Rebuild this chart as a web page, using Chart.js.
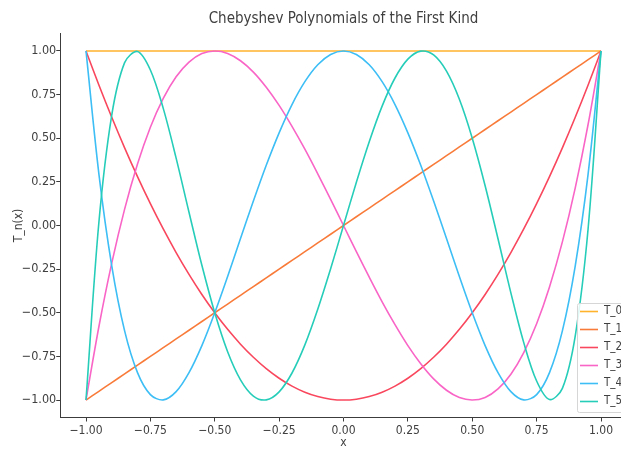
<!DOCTYPE html>
<html>
<head>
<meta charset="utf-8">
<script src="https://cdn.jsdelivr.net/npm/chart.js@4.4.1/dist/chart.umd.min.js"></script>
<style>
  html, body { margin: 0; padding: 0; background: #fff; overflow: hidden; width: 621px; height: 450px; }
  #wrap { position: absolute; left: 0; top: 0; width: 640px; height: 450px; }
</style>
</head>
<body>
<div id="wrap"><canvas id="c" width="640" height="450"></canvas></div>
<script>
// ---- data ----
const titleText = 'Chebyshev Polynomials of the First Kind';
const seriesNames = ['T_0', 'T_1', 'T_2', 'T_3', 'T_4', 'T_5'];
const seriesColors = ['#FFB22C', '#F97B3A', '#F9485E', '#F965C6', '#3DBEF5', '#26CDB9'];

const xs = [-1.00,-0.95,-0.90,-0.85,-0.80,-0.75,-0.70,-0.65,-0.60,-0.55,-0.50,-0.45,-0.40,-0.35,-0.30,-0.25,-0.20,-0.15,-0.10,-0.05,
             0.00, 0.05, 0.10, 0.15, 0.20, 0.25, 0.30, 0.35, 0.40, 0.45, 0.50, 0.55, 0.60, 0.65, 0.70, 0.75, 0.80, 0.85, 0.90, 0.95, 1.00];

const t0 = [1,1,1,1,1,1,1,1,1,1,1,1,1,1,1,1,1,1,1,1,1,1,1,1,1,1,1,1,1,1,1,1,1,1,1,1,1,1,1,1,1];
const t1 = [-1.00,-0.95,-0.90,-0.85,-0.80,-0.75,-0.70,-0.65,-0.60,-0.55,-0.50,-0.45,-0.40,-0.35,-0.30,-0.25,-0.20,-0.15,-0.10,-0.05,
             0.00, 0.05, 0.10, 0.15, 0.20, 0.25, 0.30, 0.35, 0.40, 0.45, 0.50, 0.55, 0.60, 0.65, 0.70, 0.75, 0.80, 0.85, 0.90, 0.95, 1.00];
const t2 = [1, 0.805, 0.62, 0.445, 0.28, 0.125, -0.02, -0.155, -0.28, -0.395, -0.5, -0.595, -0.68, -0.755, -0.82, -0.875, -0.92, -0.955, -0.98, -0.995,
            -1, -0.995, -0.98, -0.955, -0.92, -0.875, -0.82, -0.755, -0.68, -0.595, -0.5, -0.395, -0.28, -0.155, -0.02, 0.125, 0.28, 0.445, 0.62, 0.805, 1];
const t3 = [-1, -0.580, -0.216, 0.094, 0.352, 0.563, 0.728, 0.852, 0.936, 0.985, 1, 0.986, 0.944, 0.879, 0.792, 0.688, 0.568, 0.437, 0.296, 0.150,
            0, -0.150, -0.296, -0.437, -0.568, -0.688, -0.792, -0.879, -0.944, -0.986, -1, -0.985, -0.936, -0.852, -0.728, -0.563, -0.352, -0.094, 0.216, 0.580, 1];
const t4 = [1, 0.296, -0.231, -0.604, -0.843, -0.969, -0.999, -0.952, -0.843, -0.688, -0.5, -0.292, -0.075, 0.140, 0.345, 0.531, 0.693, 0.824, 0.921, 0.980,
            1, 0.980, 0.921, 0.824, 0.693, 0.531, 0.345, 0.140, -0.075, -0.292, -0.5, -0.688, -0.843, -0.952, -0.999, -0.969, -0.843, -0.604, -0.231, 0.296, 1];
const t5 = [-1, 0.017, 0.632, 0.933, 0.997, 0.891, 0.671, 0.386, 0.076, -0.228, -0.5, -0.723, -0.884, -0.977, -0.999, -0.953, -0.845, -0.684, -0.480, -0.248,
            0, 0.248, 0.480, 0.684, 0.845, 0.953, 0.999, 0.977, 0.884, 0.723, 0.5, 0.228, -0.076, -0.386, -0.671, -0.891, -0.997, -0.933, -0.632, -0.017, 1];

const xTicks = [-1.00, -0.75, -0.50, -0.25, 0.00, 0.25, 0.50, 0.75, 1.00];
const yTicks = [-1.00, -0.75, -0.50, -0.25, 0.00, 0.25, 0.50, 0.75, 1.00];
const xLabel = 'x';
const yLabel = 'T_n(x)';
// ---------------------------------------

const FONT = '"DejaVu Sans Condensed", "DejaVu Sans", sans-serif';
const TEXT = '#404040';
const AXIS = '#3c3c3c';
const allSeries = [t0, t1, t2, t3, t4, t5];

const datasets = allSeries.map((ys, i) => ({
  label: seriesNames[i],
  data: xs.map((x, j) => ({ x: x, y: ys[j] })),
  borderColor: seriesColors[i],
  backgroundColor: seriesColors[i],
  borderWidth: 1.6,
  pointRadius: 0,
  fill: false,
  tension: 0.33,
  order: allSeries.length - 1 - i
}));

const fmt = v => (v < 0 ? '\u2212' : '') + Math.abs(v).toFixed(2);

const titlePlugin = {
  id: 'topTitle',
  afterDraw(chart) {
    const { ctx, chartArea } = chart;
    ctx.save();
    ctx.font = '15px ' + FONT;
    ctx.fillStyle = TEXT;
    ctx.textAlign = 'center';
    ctx.textBaseline = 'middle';
    ctx.fillText(titleText, (chartArea.left + chartArea.right) / 2, 19);
    ctx.restore();
  }
};

const legendPlugin = {
  id: 'boxLegend',
  afterDatasetsDraw(chart) {
    const { ctx } = chart;
    const x0 = 577, y0 = 303, w = 50, h = 109;
    ctx.save();
    ctx.beginPath();
    if (ctx.roundRect) ctx.roundRect(x0 + 0.5, y0 + 0.5, w, h, 2); else ctx.rect(x0 + 0.5, y0 + 0.5, w, h);
    ctx.fillStyle = 'rgba(255,255,255,0.85)';
    ctx.fill();
    ctx.strokeStyle = '#d6d6d6';
    ctx.lineWidth = 1;
    ctx.stroke();
    ctx.font = '11.5px ' + FONT;
    ctx.textBaseline = 'middle';
    ctx.textAlign = 'left';
    chart.data.datasets.forEach((ds, i) => {
      const y = y0 + 8.5 + i * 18;
      ctx.beginPath();
      ctx.moveTo(580, y);
      ctx.lineTo(598, y);
      ctx.strokeStyle = ds.borderColor;
      ctx.lineWidth = 1.6;
      ctx.stroke();
      ctx.fillStyle = TEXT;
      ctx.fillText(ds.label, 604, y);
    });
    ctx.restore();
  }
};

new Chart(document.getElementById('c'), {
  type: 'line',
  data: { datasets: datasets },
  options: {
    responsive: false,
    animation: false,
    layout: { padding: { top: 33.5, right: 13.25, left: 0, bottom: 0 } },
    plugins: { legend: { display: false }, tooltip: { enabled: false }, title: { display: false } },
    scales: {
      x: {
        type: 'linear',
        min: -1.1,
        max: 1.1,
        afterBuildTicks: s => { s.ticks = xTicks.map(v => ({ value: v })); },
        afterFit: s => { s.height = 32.5; },
        grid: { drawOnChartArea: false, drawTicks: true, tickLength: 4, tickColor: AXIS, tickWidth: 1 },
        border: { display: true, color: AXIS, width: 1 },
        ticks: { callback: v => fmt(v), color: TEXT, font: { family: FONT, size: 12 }, padding: 2, maxRotation: 0, autoSkip: false },
        title: { display: true, text: xLabel, color: TEXT, font: { family: FONT, size: 12 }, padding: { top: 0, bottom: 0 } }
      },
      y: {
        type: 'linear',
        min: -1.1,
        max: 1.1,
        afterBuildTicks: s => { s.ticks = yTicks.map(v => ({ value: v })); },
        afterFit: s => { s.width = 60.25; },
        grid: { drawOnChartArea: false, drawTicks: true, tickLength: 4, tickColor: AXIS, tickWidth: 1 },
        border: { display: true, color: AXIS, width: 1 },
        ticks: { callback: v => fmt(v), color: TEXT, font: { family: FONT, size: 12.5 }, padding: 0, autoSkip: false },
        title: { display: true, text: yLabel, color: TEXT, font: { family: FONT, size: 12 }, padding: { top: 11.5, bottom: 0 } }
      }
    }
  },
  plugins: [titlePlugin, legendPlugin]
});
</script>
</body>
</html>
